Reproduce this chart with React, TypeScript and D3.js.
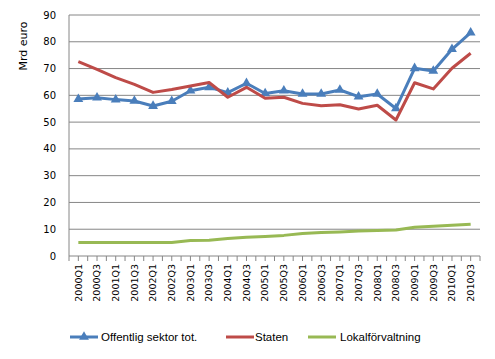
import React from 'react';
import * as d3 from 'd3';

// kvartal (varannan visas)
const quarters = [
  '2000Q1', '2000Q3', '2001Q1', '2001Q3', '2002Q1', '2002Q3', '2003Q1', '2003Q3',
  '2004Q1', '2004Q3', '2005Q1', '2005Q3', '2006Q1', '2006Q3', '2007Q1', '2007Q3',
  '2008Q1', '2008Q3', '2009Q1', '2009Q3', '2010Q1', '2010Q3',
];

const offentligSektor = [
  58.6, 59.1, 58.4, 57.9, 56.0, 57.8, 61.7, 63.0, 61.0, 64.5, 60.7,
  61.7, 60.5, 60.5, 62.0, 59.5, 60.5, 55.1, 70.1, 69.1, 77.2, 83.4,
];
const staten = [
  72.6, 69.7, 66.6, 64.1, 61.1, 62.2, 63.5, 64.8, 59.3, 63.0, 58.9,
  59.3, 57.0, 56.1, 56.5, 54.9, 56.3, 50.8, 64.7, 62.4, 70.1, 75.7,
];
const lokalforvaltning = [
  5.0, 5.0, 5.0, 5.0, 5.0, 5.0, 5.8, 5.9, 6.5, 7.0, 7.3,
  7.7, 8.4, 8.8, 9.0, 9.3, 9.5, 9.7, 10.7, 11.1, 11.5, 11.9,
];
const yTicks = [0, 10, 20, 30, 40, 50, 60, 70, 80, 90];

const series = [
  { name: 'Offentlig sektor tot.', values: offentligSektor, color: '#4a7ebb', marker: true },
  { name: 'Staten', values: staten, color: '#be4b48', marker: false },
  { name: 'Lokalförvaltning', values: lokalforvaltning, color: '#98b954', marker: false },
];

const W = 495, H = 359;
const plot = { left: 69, right: 480, top: 15, bottom: 256 };
const grid = '#868686';

const App = () => {
  const x = d3.scaleBand().domain(quarters).range([plot.left, plot.right]);
  const y = d3.scaleLinear().domain([0, 90]).range([plot.bottom, plot.top]);
  const cx = (i: number) => x(quarters[i])! + x.bandwidth() / 2;

  const line = d3.line<number>().x((_, i) => cx(i)).y(d => y(d));
  const tri = d3.symbol(d3.symbolTriangle, 42)();

  // tickmarks at every half category
  const halfTicks = d3.range(quarters.length * 2 + 1).map(k => plot.left + k * x.bandwidth() / 2);

  const legendPos = [
    { lx: 70, tx: 101 },
    { lx: 226, tx: 255 },
    { lx: 308, tx: 340 },
  ];

  return (
    <svg width={W} height={H} style={{ position: 'absolute', left: 0, top: 0, background: '#fff' }}
      fontFamily="DejaVu Sans, sans-serif">
      {yTicks.map(t => (
        <g key={t}>
          {t > 0 && <line x1={plot.left} x2={plot.right} y1={y(t)} y2={y(t)} stroke={grid} strokeWidth={1} />}
          <text x={56} y={y(t)} dy="0.35em" textAnchor="end" fontSize={10} fill="#000">{t}</text>
        </g>
      ))}
      <line x1={plot.left} x2={plot.left} y1={plot.top} y2={plot.bottom} stroke={grid} />
      <line x1={plot.left} x2={plot.right} y1={plot.bottom} y2={plot.bottom} stroke={grid} />
      {halfTicks.map((tx, k) => (
        <line key={k} x1={tx} x2={tx} y1={plot.bottom} y2={plot.bottom + 5} stroke={grid} />
      ))}
      {quarters.map((q, i) => (
        <text key={q} transform={`translate(${cx(i)},${plot.bottom + 8}) rotate(-90)`}
          dy="0.35em" textAnchor="end" fontSize={9.5} fill="#000">{q}</text>
      ))}
      <text transform="translate(23,46) rotate(-90)" dy="0.35em" textAnchor="middle" fontSize={11} fill="#000">Mrd euro</text>

      {series.map(s => (
        <g key={s.name}>
          <path d={line(s.values)!} fill="none" stroke={s.color} strokeWidth={3} strokeLinejoin="round" />
          {s.marker && s.values.map((v, i) => (
            <path key={i} d={tri!} transform={`translate(${cx(i)},${y(v)})`} fill={s.color} />
          ))}
        </g>
      ))}

      {series.map((s, i) => (
        <g key={s.name} fontFamily="Liberation Sans, Arial, sans-serif">
          <line x1={legendPos[i].lx} x2={legendPos[i].lx + 28} y1={337} y2={337} stroke={s.color} strokeWidth={3} />
          {s.marker && <path d={tri!} transform={`translate(${legendPos[i].lx + 14},337)`} fill={s.color} />}
          <text x={legendPos[i].tx} y={337} dy="0.35em" fontSize={11.5} fill="#000">{s.name}</text>
        </g>
      ))}
    </svg>
  );
};

export default App;
